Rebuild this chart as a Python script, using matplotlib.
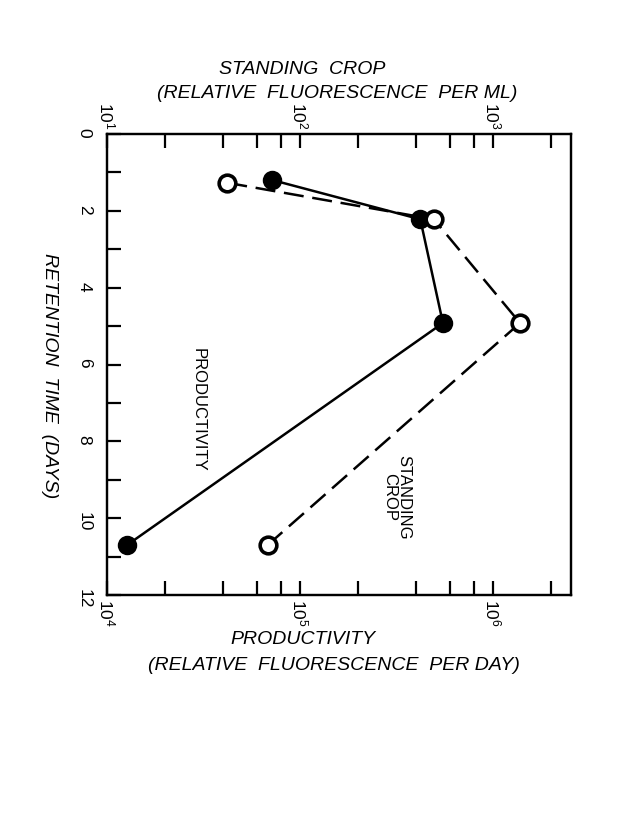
import math

import matplotlib
matplotlib.use("Agg")
import matplotlib.pyplot as plt
from matplotlib.ticker import LogLocator, NullFormatter, FixedLocator, FuncFormatter

plt.rcParams["font.family"] = ["Liberation Sans", "DejaVu Sans"]
plt.rcParams["mathtext.fontset"] = "custom"
plt.rcParams["mathtext.rm"] = "Liberation Sans"
plt.rcParams["mathtext.it"] = "Liberation Sans:italic"

# productivity (bottom axis, filled circles)
prod_days = [1.20, 2.22, 4.92, 10.70]
prod_vals = [7.2e4, 4.2e5, 5.5e5, 1.27e4]

# standing crop (top axis, open circles)
crop_days = [1.27, 2.22, 4.92, 10.70]
crop_vals = [42, 494, 1380, 68]

fig = plt.figure(figsize=(6.3, 8.17), dpi=100)
ax = fig.add_axes([107 / 630, 1 - 595 / 817, 464 / 630, 461 / 817])
ax2 = ax.twiny()

ax.plot(prod_vals, prod_days, color="black", lw=1.8, marker="o", ms=12,
        mfc="black", mec="black", mew=2, zorder=3)
ax2.plot(crop_vals, crop_days, color="black", lw=1.8, dashes=(8, 3.5), marker="o",
         ms=12, mfc="white", mec="black", mew=2.6, zorder=3)

ax.set_xscale("log")
ax2.set_xscale("log")
ax.set_xlim(1e4, 10 ** 6.404)
ax2.set_xlim(10, 10 ** 3.404)
ax.set_ylim(12, 0)


def exp_label(v, pos):
    return r"$10^{%d}$" % round(math.log10(v))


for a in (ax, ax2):
    a.xaxis.set_major_locator(LogLocator(base=10, numticks=10))
    a.xaxis.set_minor_locator(LogLocator(base=10, subs=[2, 4, 6, 8], numticks=10))
    a.xaxis.set_minor_formatter(NullFormatter())
    a.xaxis.set_major_formatter(FuncFormatter(exp_label))
    a.tick_params(axis="x", which="both", direction="in", length=10, width=1.6,
                  labelsize=12.5, labelrotation=-90, pad=3)

ax.yaxis.set_major_locator(FixedLocator([0, 2, 4, 6, 8, 10, 12]))
ax.yaxis.set_minor_locator(FixedLocator([1, 3, 5, 7, 9, 11]))
ax.tick_params(axis="y", which="both", direction="in", length=10, width=1.6,
               labelsize=12.5, labelrotation=-90, pad=11, right=False)
ax.tick_params(axis="x", which="both", top=False)
ax2.tick_params(axis="x", which="both", bottom=False)
for a in (ax, ax2):
    for s in a.spines.values():
        s.set_linewidth(1.6)

it = dict(fontsize=14, style="italic", ha="center", va="center")
fig.text(302 / 630, 1 - 70 / 817, "STANDING  CROP", **it)
fig.text(337 / 630, 1 - 93 / 817, "(RELATIVE  FLUORESCENCE  PER ML)", **it)
fig.text(303 / 630, 1 - 640 / 817, "PRODUCTIVITY", **it)
fig.text(334 / 630, 1 - 665 / 817, "(RELATIVE  FLUORESCENCE  PER DAY)", **it)
fig.text(49 / 630, 1 - 376 / 817, "RETENTION  TIME  (DAYS)", rotation=-90, **it)

fig.text(198 / 630, 1 - 410 / 817, "PRODUCTIVITY", rotation=-90, fontsize=12,
         ha="center", va="center")
fig.text(397 / 630, 1 - 497 / 817, "STANDING\nCROP", rotation=-90, fontsize=12,
         ha="center", va="center", linespacing=0.95)

fig.savefig("out.png", dpi=100)
